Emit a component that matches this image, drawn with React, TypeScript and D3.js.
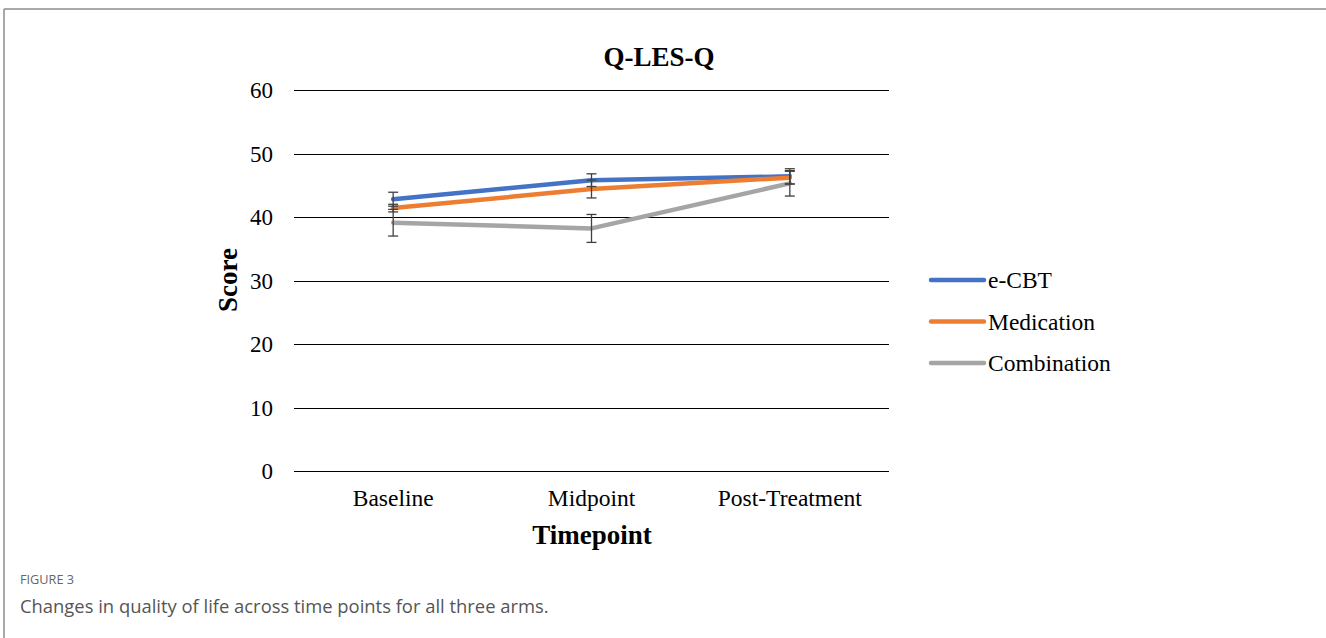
import React from "react";
import * as d3 from "d3";

const timepoints = ["Baseline", "Midpoint", "Post-Treatment"];
const yTicks = [0, 10, 20, 30, 40, 50, 60];
const seriesNames = ["e-CBT", "Medication", "Combination"];
const seriesColors = ["#4472C4", "#ED7D31", "#A5A5A5"];
const ecbtMeans = [42.8, 45.8, 46.4];
const ecbtErr = [1.1, 1.0, 1.2];
const medicationMeans = [41.4, 44.4, 46.2];
const medicationErr = [0.6, 1.4, 1.0];
const combinationMeans = [39.1, 38.2, 45.3];
const combinationErr = [2.1, 2.2, 2.0];

const series = [
  { name: seriesNames[0], color: seriesColors[0], means: ecbtMeans, err: ecbtErr },
  { name: seriesNames[1], color: seriesColors[1], means: medicationMeans, err: medicationErr },
  { name: seriesNames[2], color: seriesColors[2], means: combinationMeans, err: combinationErr },
];

const serif = "'Liberation Serif', 'Times New Roman', serif";
const sans = "'Open Sans', 'Noto Sans', sans-serif";

export default function App() {
  const W = 1326, H = 638;
  const left = 294, right = 889, top = 90, bottom = 471;
  const x = d3.scalePoint<string>().domain(timepoints).range([left, right]).padding(0.5);
  const y = d3.scaleLinear().domain([0, 60]).range([bottom, top]);
  const line = d3.line<number>().x((_, i) => x(timepoints[i]) as number).y((d) => y(d));

  return (
    <svg width={W} height={H} style={{ position: "absolute", left: 0, top: 0, background: "#fff" }}>
      <rect x={0} y={0} width={W} height={H} fill="#fff" />
      <line x1={4} y1={9} x2={W} y2={9} stroke="#8c8c8c" strokeWidth={1.5} />
      <line x1={4} y1={9} x2={4} y2={H} stroke="#8c8c8c" strokeWidth={1.5} />

      <text x={659} y={66} textAnchor="middle" fontFamily={serif} fontWeight="bold" fontSize={27}>Q-LES-Q</text>

      {yTicks.map((t) => (
        <g key={t}>
          <line x1={left} x2={right} y1={Math.round(y(t)) + 0.5} y2={Math.round(y(t)) + 0.5} stroke="#000" strokeWidth={1} />
          <text x={273} y={y(t) + 8} textAnchor="end" fontFamily={serif} fontSize={23}>{t}</text>
        </g>
      ))}

      <text transform={`translate(237,280) rotate(-90)`} textAnchor="middle" fontFamily={serif} fontWeight="bold" fontSize={27}>Score</text>

      {timepoints.map((t) => (
        <text key={t} x={x(t) as number} y={506} textAnchor="middle" fontFamily={serif} fontSize={23.5}>{t}</text>
      ))}
      <text x={592} y={544} textAnchor="middle" fontFamily={serif} fontWeight="bold" fontSize={27}>Timepoint</text>

      {series.map((s) => (
        <path key={s.name} d={line(s.means) || ""} fill="none" stroke={s.color} strokeWidth={4.5} strokeLinejoin="round" strokeLinecap="round" />
      ))}

      {series.map((s) =>
        s.means.map((m, i) => {
          const cx = x(timepoints[i]) as number;
          const y1 = y(m + s.err[i]);
          const y2 = y(m - s.err[i]);
          return (
            <g key={s.name + i} stroke="#404040" strokeWidth={1.3}>
              <line x1={cx} x2={cx} y1={y1} y2={y2} />
              <line x1={cx - 5} x2={cx + 5} y1={y1} y2={y1} />
              <line x1={cx - 5} x2={cx + 5} y1={y2} y2={y2} />
            </g>
          );
        })
      )}

      {series.map((s, i) => (
        <g key={s.name}>
          <line x1={931} x2={984} y1={280 + i * 41.5} y2={280 + i * 41.5} stroke={s.color} strokeWidth={4.5} strokeLinecap="round" />
          <text x={988} y={288 + i * 41.5} fontFamily={serif} fontSize={23.5}>{s.name}</text>
        </g>
      ))}

      <text x={20} y={584} fontFamily={sans} fontSize={12.7} fill="#666">FIGURE 3</text>
      <text x={20} y={613} fontFamily={sans} fontSize={18.4} fill="#555">Changes in quality of life across time points for all three arms.</text>
    </svg>
  );
}
